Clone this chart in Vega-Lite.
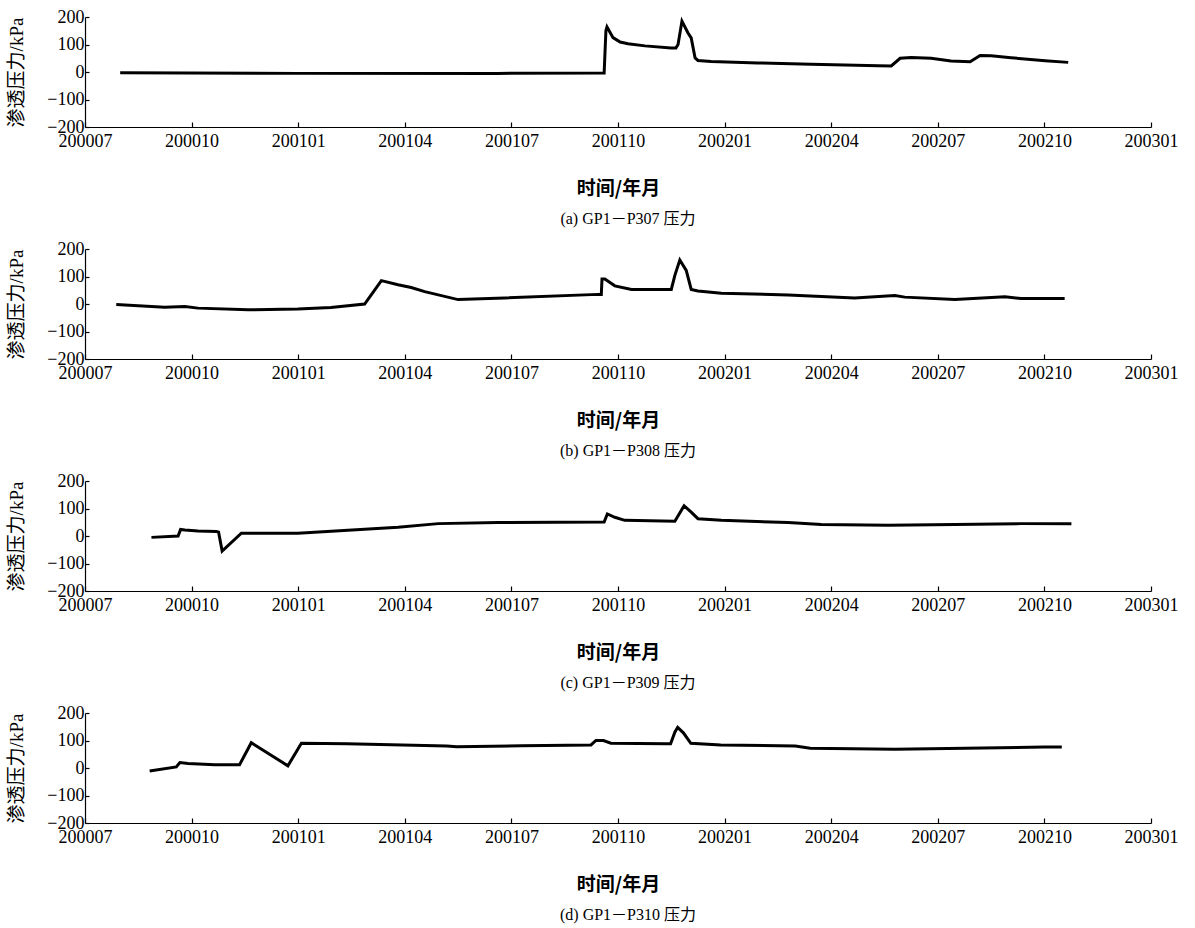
{
  "$schema": "https://vega.github.io/schema/vega-lite/v6.json",
  "padding": {"top": 8, "left": 7, "right": 10, "bottom": 5},
  "spacing": 13,
  "config": {
    "view": {"stroke": null},
    "font": "Liberation Serif, Noto Sans CJK SC",
    "axis": {"grid": false, "domainColor": "#000", "tickColor": "#000", "labelColor": "#000", "titleColor": "#000", "domainWidth": 1.2, "tickWidth": 1.2, "labelFont": "Liberation Serif", "labelFontSize": 18, "titleFontSize": 19},
    "axisX": {"tickSize": -5, "labelPadding": 10, "titlePadding": 29, "labelFlush": false, "labelOverlap": false, "titleFont": "Noto Sans CJK SC", "titleFontWeight": "bold"},
    "axisY": {"tickSize": -4, "labelPadding": 5, "titlePadding": 20, "titleFont": "Liberation Serif, Noto Sans CJK SC", "titleFontWeight": "normal"},
    "title": {"orient": "bottom", "offset": 13, "fontSize": 16, "fontWeight": "normal", "font": "Liberation Serif, Noto Sans CJK SC", "anchor": "middle", "frame": "group", "dx": 10, "color": "#000"},
    "line": {"color": "#000", "strokeWidth": 3}
  },
  "datasets": {
    "d": [
      {"p": "a", "t": 0.99, "v": -3}, {"p": "a", "t": 5.99, "v": -5}, {"p": "a", "t": 11.62, "v": -5}, {"p": "a", "t": 14.61, "v": -4},
      {"p": "a", "t": 14.66, "v": 150}, {"p": "a", "t": 14.69, "v": 164}, {"p": "a", "t": 14.86, "v": 125}, {"p": "a", "t": 15.06, "v": 109},
      {"p": "a", "t": 15.28, "v": 103}, {"p": "a", "t": 15.76, "v": 95}, {"p": "a", "t": 16.49, "v": 87}, {"p": "a", "t": 16.63, "v": 87},
      {"p": "a", "t": 16.69, "v": 100}, {"p": "a", "t": 16.8, "v": 185}, {"p": "a", "t": 16.97, "v": 142}, {"p": "a", "t": 17.06, "v": 124},
      {"p": "a", "t": 17.17, "v": 51}, {"p": "a", "t": 17.25, "v": 42}, {"p": "a", "t": 17.62, "v": 38}, {"p": "a", "t": 18.94, "v": 33},
      {"p": "a", "t": 20.43, "v": 28}, {"p": "a", "t": 22.32, "v": 23}, {"p": "a", "t": 22.69, "v": 22}, {"p": "a", "t": 22.94, "v": 50},
      {"p": "a", "t": 23.25, "v": 53}, {"p": "a", "t": 23.81, "v": 50}, {"p": "a", "t": 24.37, "v": 40}, {"p": "a", "t": 24.91, "v": 37},
      {"p": "a", "t": 25.19, "v": 60}, {"p": "a", "t": 25.5, "v": 59}, {"p": "a", "t": 26.06, "v": 52}, {"p": "a", "t": 27.02, "v": 41},
      {"p": "a", "t": 27.67, "v": 35},

      {"p": "b", "t": 0.88, "v": -2}, {"p": "b", "t": 2.24, "v": -12}, {"p": "b", "t": 2.81, "v": -9}, {"p": "b", "t": 3.18, "v": -15},
      {"p": "b", "t": 4.59, "v": -21}, {"p": "b", "t": 5.99, "v": -18}, {"p": "b", "t": 6.92, "v": -13}, {"p": "b", "t": 7.87, "v": 0},
      {"p": "b", "t": 8.34, "v": 85}, {"p": "b", "t": 8.81, "v": 70}, {"p": "b", "t": 9.18, "v": 60}, {"p": "b", "t": 9.56, "v": 45},
      {"p": "b", "t": 10.5, "v": 16}, {"p": "b", "t": 11.81, "v": 22}, {"p": "b", "t": 14.44, "v": 35}, {"p": "b", "t": 14.53, "v": 35},
      {"p": "b", "t": 14.55, "v": 91}, {"p": "b", "t": 14.63, "v": 91}, {"p": "b", "t": 14.91, "v": 66}, {"p": "b", "t": 15.38, "v": 53},
      {"p": "b", "t": 16.5, "v": 53}, {"p": "b", "t": 16.6, "v": 104}, {"p": "b", "t": 16.74, "v": 160}, {"p": "b", "t": 16.92, "v": 122},
      {"p": "b", "t": 17.06, "v": 53}, {"p": "b", "t": 17.25, "v": 47}, {"p": "b", "t": 17.91, "v": 39}, {"p": "b", "t": 19.79, "v": 33},
      {"p": "b", "t": 21.66, "v": 22}, {"p": "b", "t": 22.79, "v": 31}, {"p": "b", "t": 23.07, "v": 25}, {"p": "b", "t": 24.48, "v": 16},
      {"p": "b", "t": 25.89, "v": 26}, {"p": "b", "t": 26.34, "v": 20}, {"p": "b", "t": 27.57, "v": 20},

      {"p": "c", "t": 1.87, "v": -5}, {"p": "c", "t": 2.62, "v": 0}, {"p": "c", "t": 2.69, "v": 24}, {"p": "c", "t": 2.81, "v": 22},
      {"p": "c", "t": 3.18, "v": 18}, {"p": "c", "t": 3.7, "v": 16}, {"p": "c", "t": 3.76, "v": 14}, {"p": "c", "t": 3.86, "v": -55},
      {"p": "c", "t": 4.4, "v": 10}, {"p": "c", "t": 5.99, "v": 10}, {"p": "c", "t": 8.81, "v": 32}, {"p": "c", "t": 9.94, "v": 45},
      {"p": "c", "t": 11.62, "v": 49}, {"p": "c", "t": 14.61, "v": 51}, {"p": "c", "t": 14.7, "v": 80}, {"p": "c", "t": 14.91, "v": 68},
      {"p": "c", "t": 15.19, "v": 57}, {"p": "c", "t": 16.6, "v": 54}, {"p": "c", "t": 16.86, "v": 110}, {"p": "c", "t": 17.06, "v": 87},
      {"p": "c", "t": 17.25, "v": 63}, {"p": "c", "t": 17.91, "v": 57}, {"p": "c", "t": 19.79, "v": 49}, {"p": "c", "t": 20.72, "v": 42},
      {"p": "c", "t": 22.6, "v": 39}, {"p": "c", "t": 24.48, "v": 42}, {"p": "c", "t": 26.35, "v": 45}, {"p": "c", "t": 27.76, "v": 45},

      {"p": "d", "t": 1.82, "v": -11}, {"p": "d", "t": 2.57, "v": 4}, {"p": "d", "t": 2.67, "v": 20}, {"p": "d", "t": 2.9, "v": 16},
      {"p": "d", "t": 3.65, "v": 12}, {"p": "d", "t": 4.35, "v": 12}, {"p": "d", "t": 4.68, "v": 92}, {"p": "d", "t": 5.71, "v": 8},
      {"p": "d", "t": 6.09, "v": 90}, {"p": "d", "t": 7.37, "v": 88}, {"p": "d", "t": 10.18, "v": 80}, {"p": "d", "t": 10.46, "v": 77},
      {"p": "d", "t": 12.28, "v": 81}, {"p": "d", "t": 14.24, "v": 84}, {"p": "d", "t": 14.38, "v": 100}, {"p": "d", "t": 14.59, "v": 100},
      {"p": "d", "t": 14.8, "v": 90}, {"p": "d", "t": 16.34, "v": 88}, {"p": "d", "t": 16.48, "v": 88}, {"p": "d", "t": 16.6, "v": 130},
      {"p": "d", "t": 16.68, "v": 148}, {"p": "d", "t": 16.84, "v": 128}, {"p": "d", "t": 17.05, "v": 90}, {"p": "d", "t": 17.89, "v": 84},
      {"p": "d", "t": 19.99, "v": 80}, {"p": "d", "t": 20.41, "v": 72}, {"p": "d", "t": 22.79, "v": 68}, {"p": "d", "t": 27.0, "v": 76},
      {"p": "d", "t": 27.49, "v": 76}
    ]
  },
  "vconcat": [
    {
      "width": 1066, "height": 110,
      "data": {"name": "d"},
      "transform": [{"filter": "datum.p == 'a'"}],
      "title": {"text": "(a) GP1－P307 压力"},
      "mark": {"type": "line"},
      "encoding": {
        "x": {"field": "t", "type": "quantitative", "scale": {"domain": [0, 30], "nice": false, "zero": false}, "axis": {"title": "时间/年月", "values": [0, 3, 6, 9, 12, 15, 18, 21, 24, 27, 30], "labelExpr": "format(2000 + floor((6 + datum.value) / 12), 'd') + (((6 + datum.value) % 12) + 1 < 10 ? '0' : '') + format(((6 + datum.value) % 12) + 1, 'd')"}},
        "y": {"field": "v", "type": "quantitative", "scale": {"domain": [-200, 200], "nice": false}, "axis": {"title": "渗透压力/kPa", "values": [-200, -100, 0, 100, 200]}}
      }
    },
    {
      "width": 1066, "height": 110,
      "data": {"name": "d"},
      "transform": [{"filter": "datum.p == 'b'"}],
      "title": {"text": "(b) GP1－P308 压力"},
      "mark": {"type": "line"},
      "encoding": {
        "x": {"field": "t", "type": "quantitative", "scale": {"domain": [0, 30], "nice": false, "zero": false}, "axis": {"title": "时间/年月", "values": [0, 3, 6, 9, 12, 15, 18, 21, 24, 27, 30], "labelExpr": "format(2000 + floor((6 + datum.value) / 12), 'd') + (((6 + datum.value) % 12) + 1 < 10 ? '0' : '') + format(((6 + datum.value) % 12) + 1, 'd')"}},
        "y": {"field": "v", "type": "quantitative", "scale": {"domain": [-200, 200], "nice": false}, "axis": {"title": "渗透压力/kPa", "values": [-200, -100, 0, 100, 200]}}
      }
    },
    {
      "width": 1066, "height": 110,
      "data": {"name": "d"},
      "transform": [{"filter": "datum.p == 'c'"}],
      "title": {"text": "(c) GP1－P309 压力"},
      "mark": {"type": "line"},
      "encoding": {
        "x": {"field": "t", "type": "quantitative", "scale": {"domain": [0, 30], "nice": false, "zero": false}, "axis": {"title": "时间/年月", "values": [0, 3, 6, 9, 12, 15, 18, 21, 24, 27, 30], "labelExpr": "format(2000 + floor((6 + datum.value) / 12), 'd') + (((6 + datum.value) % 12) + 1 < 10 ? '0' : '') + format(((6 + datum.value) % 12) + 1, 'd')"}},
        "y": {"field": "v", "type": "quantitative", "scale": {"domain": [-200, 200], "nice": false}, "axis": {"title": "渗透压力/kPa", "values": [-200, -100, 0, 100, 200]}}
      }
    },
    {
      "width": 1066, "height": 110,
      "data": {"name": "d"},
      "transform": [{"filter": "datum.p == 'd'"}],
      "title": {"text": "(d) GP1－P310 压力"},
      "mark": {"type": "line"},
      "encoding": {
        "x": {"field": "t", "type": "quantitative", "scale": {"domain": [0, 30], "nice": false, "zero": false}, "axis": {"title": "时间/年月", "values": [0, 3, 6, 9, 12, 15, 18, 21, 24, 27, 30], "labelExpr": "format(2000 + floor((6 + datum.value) / 12), 'd') + (((6 + datum.value) % 12) + 1 < 10 ? '0' : '') + format(((6 + datum.value) % 12) + 1, 'd')"}},
        "y": {"field": "v", "type": "quantitative", "scale": {"domain": [-200, 200], "nice": false}, "axis": {"title": "渗透压力/kPa", "values": [-200, -100, 0, 100, 200]}}
      }
    }
  ]
}
